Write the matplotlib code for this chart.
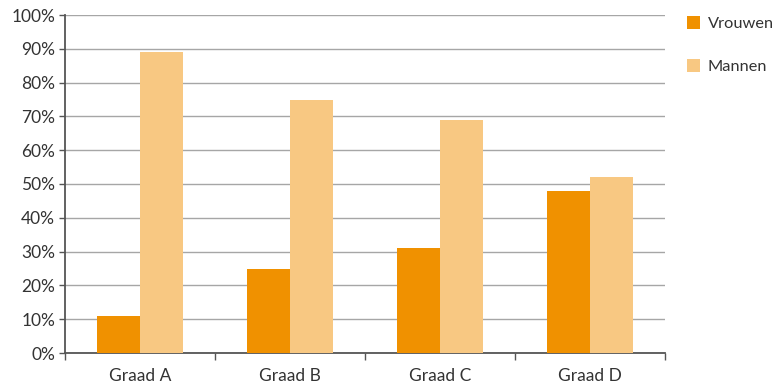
import matplotlib.pyplot as plt
import numpy as np

categories = ['Graad A', 'Graad B', 'Graad C', 'Graad D']
vrouwen = [11, 25, 31, 48]
mannen = [89, 75, 69, 52]
yticks = [0, 10, 20, 30, 40, 50, 60, 70, 80, 90, 100]

plt.rcParams['font.family'] = ['Lato', 'DejaVu Sans']

fig = plt.figure(figsize=(7.77, 3.84), dpi=100)
ax = fig.add_axes([65 / 777, 31 / 384, 600 / 777, 338 / 384])

x = np.arange(len(categories))
w = 0.285
ax.bar(x - w / 2, vrouwen, w, color='#F09100', label='Vrouwen', zorder=3)
ax.bar(x + w / 2, mannen, w, color='#F8C882', label='Mannen', zorder=3)

ax.set_xlim(-0.5, len(categories) - 0.5)
ax.set_ylim(0, 100)
ax.set_yticks(yticks)
ax.set_yticklabels([f'{v}%' for v in yticks])
ax.yaxis.grid(True, color='#A6A6A6', linewidth=1)
ax.set_axisbelow(True)

ax.set_xticks(x)
ax.set_xticklabels(categories)
ax.set_xticks(np.arange(-0.5, len(categories)), minor=True)
ax.tick_params(axis='x', which='major', length=0, pad=11)
ax.tick_params(axis='x', which='minor', length=5, width=1, color='#555555', direction='out')
ax.tick_params(axis='y', length=4, width=1, color='#555555', pad=3)
ax.tick_params(labelsize=12.5, labelcolor='#333333')

for s in ['top', 'right']:
    ax.spines[s].set_visible(False)
for s in ['left', 'bottom']:
    ax.spines[s].set_color('#555555')
    ax.spines[s].set_linewidth(1.3)

fig.legend(loc='upper left', bbox_to_anchor=(687 / 777, 1 - 16 / 384), frameon=False,
           borderpad=0, borderaxespad=0,
           fontsize=11.8, handlelength=0.8, handleheight=0.85, labelspacing=1.7,
           handletextpad=0.45, labelcolor='#333333')

fig.savefig('out.png', dpi=100)
